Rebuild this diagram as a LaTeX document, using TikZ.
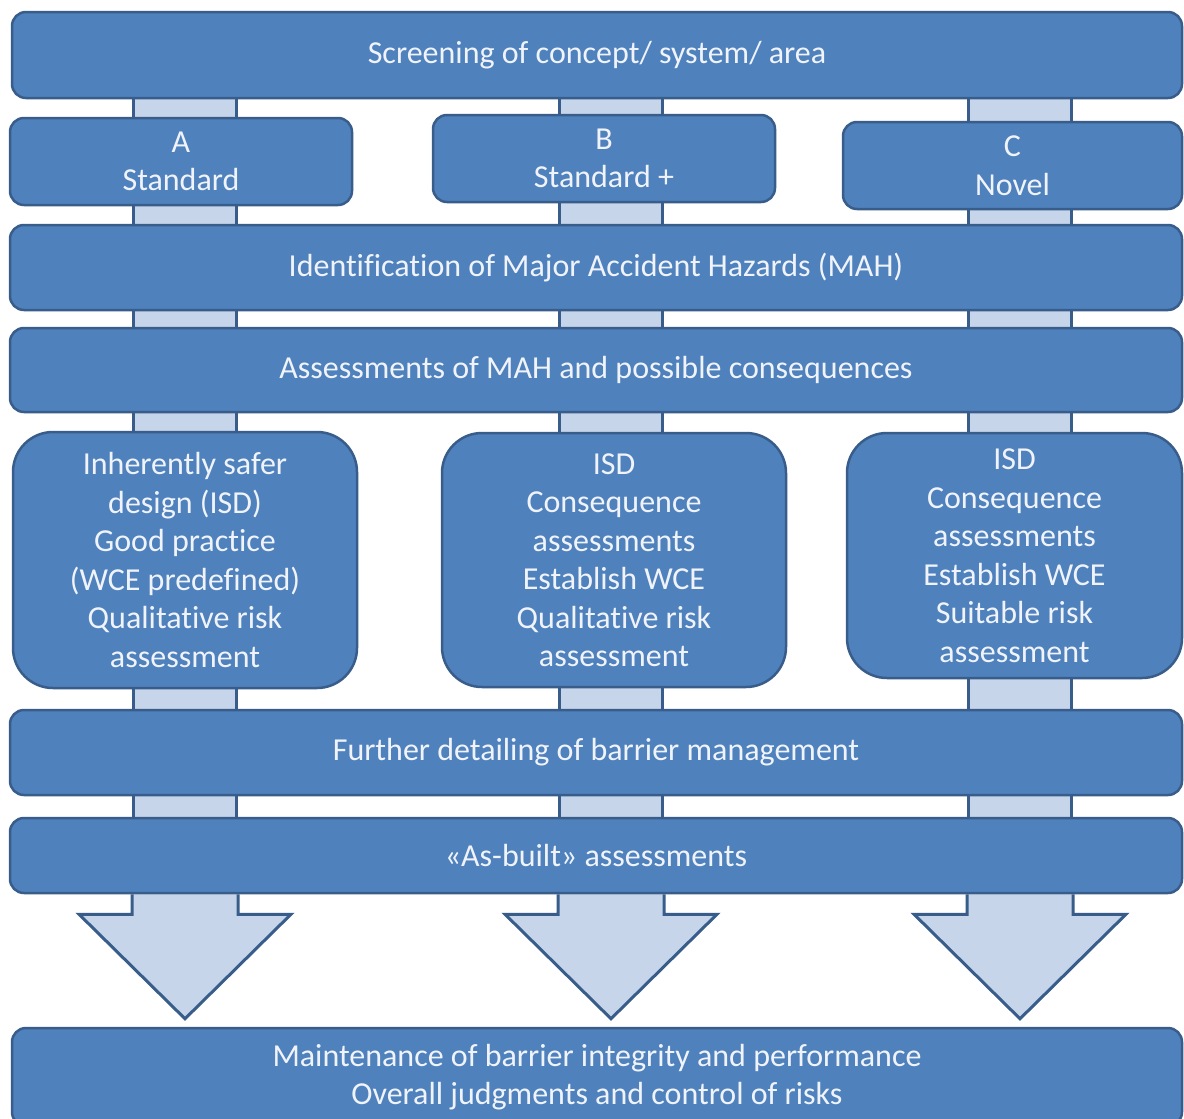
\documentclass[tikz,border=0pt]{standalone}
\usepackage{fontspec}
\setmainfont[Ligatures = NoCommon]{Carlito}
\usetikzlibrary{calc}
\usetikzlibrary{backgrounds}
\definecolor{mblue}{HTML}{4F81BD}
\definecolor{mdark}{HTML}{385D8A}
\definecolor{mlight}{HTML}{C6D5EA}
\definecolor{mtext}{HTML}{F0F4FA}
\tikzset{box/.style = {draw = mdark, fill = mblue, line width = 2.5, rounded corners = 14,
                       text = mtext, align = center, inner sep = 0,
                       font = \fontsize{32}{38.5}\selectfont}}
\tikzset{bigbox/.style = {box, rounded corners = 40}}
\tikzset{bar/.style = {draw = mdark, line width = 3, double = mlight, double distance = 100}}
\tikzset{blockarrow/.style = {draw = mdark, fill = mlight, line width = 3, line join = miter}}

\begin{document}
\begin{tikzpicture}[x = 1pt, y = -1pt]
      \clip (0, 0) rectangle (1184, 1119);
      \coordinate (colA) at (185, 0);
      \coordinate (colB) at (611, 0);
      \coordinate (colC) at (1020, 0);

      \node [box, minimum width = 1170, minimum height = 86] (scr) at (597, 55) {Screening of concept/ system/ area};
      \node [box, minimum width = 342, minimum height = 87] (catA) at (181, 161.5) {A\\Standard};
      \node [box, minimum width = 342, minimum height = 87] (catB) at (604, 158.5) {B\\Standard +};
      \node [box, minimum width = 339, minimum height = 87] (catC) at (1012.5, 165.5) {C\\Novel};
      \node [box, minimum width = 1172, minimum height = 85] (mah) at (596, 267.5) {Identification of Major Accident Hazards (MAH)};
      \node [box, minimum width = 1172, minimum height = 84] (cons) at (596, 370) {Assessments of MAH and possible consequences};

      \node [bigbox, minimum width = 344, minimum height = 256] (isdA) at (185, 560)
            {Inherently safer\\design (ISD)\\Good practice\\(WCE predefined)\\Qualitative risk\\assessment};
      \node [bigbox, minimum width = 344, minimum height = 254] (isdB) at (614, 560)
            {ISD\\Consequence\\assessments\\Establish WCE\\Qualitative risk\\assessment};
      \node [bigbox, minimum width = 335, minimum height = 245] (isdC) at (1014.5, 555.5)
            {ISD\\Consequence\\assessments\\Establish WCE\\Suitable risk\\assessment};

      \node [box, minimum width = 1172, minimum height = 85] (barr) at (596, 752.5) {Further detailing of barrier management};
      \node [box, minimum width = 1172, minimum height = 75] (built) at (596, 855.5) {«As-built» assessments};
      \node [box, minimum width = 1170, minimum height = 98] (maint) at (597, 1077)
            {Maintenance of barrier integrity and performance\\Overall judgments and control of risks};

      \begin{scope}[on background layer]
        \fill [white] (0, 0) rectangle (1184, 1119);

        % A column
        \draw [bar] (scr.south -| colA) -- (catA.north -| colA);
        \draw [bar] (catA.south -| colA) -- (mah.north -| colA);
        \draw [bar] (mah.south -| colA) -- (cons.north -| colA);
        \draw [bar] (cons.south -| colA) -- (isdA.north -| colA);
        \draw [bar] (isdA.south -| colA) -- (barr.north -| colA);
        \draw [bar] (barr.south -| colA) -- (built.north -| colA);
        \draw [blockarrow] ($(built.south -| colA) + (-53, 0)$) -- ++(0, 20) -- ++(-53, 0)
              -- ($(maint.north -| colA) + (0, -8)$) -- ($(built.south -| colA) + (106, 20)$)
              -- ++(-53, 0) -- ++(0, -20);

        % B column
        \draw [bar] (scr.south -| colB) -- (catB.north -| colB);
        \draw [bar] (catB.south -| colB) -- (mah.north -| colB);
        \draw [bar] (mah.south -| colB) -- (cons.north -| colB);
        \draw [bar] (cons.south -| colB) -- (isdB.north -| colB);
        \draw [bar] (isdB.south -| colB) -- (barr.north -| colB);
        \draw [bar] (barr.south -| colB) -- (built.north -| colB);
        \draw [blockarrow] ($(built.south -| colB) + (-53, 0)$) -- ++(0, 20) -- ++(-53, 0)
              -- ($(maint.north -| colB) + (0, -8)$) -- ($(built.south -| colB) + (106, 20)$)
              -- ++(-53, 0) -- ++(0, -20);

        % C column
        \draw [bar] (scr.south -| colC) -- (catC.north -| colC);
        \draw [bar] (catC.south -| colC) -- (mah.north -| colC);
        \draw [bar] (mah.south -| colC) -- (cons.north -| colC);
        \draw [bar] (cons.south -| colC) -- (isdC.north -| colC);
        \draw [bar] (isdC.south -| colC) -- (barr.north -| colC);
        \draw [bar] (barr.south -| colC) -- (built.north -| colC);
        \draw [blockarrow] ($(built.south -| colC) + (-53, 0)$) -- ++(0, 20) -- ++(-53, 0)
              -- ($(maint.north -| colC) + (0, -8)$) -- ($(built.south -| colC) + (106, 20)$)
              -- ++(-53, 0) -- ++(0, -20);
      \end{scope}
\end{tikzpicture}
\end{document}
